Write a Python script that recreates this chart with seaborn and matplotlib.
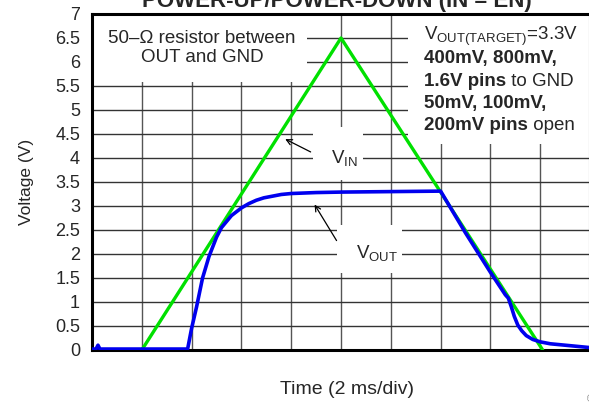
import numpy as np
import seaborn as sns
import matplotlib.pyplot as plt
from matplotlib.patches import Rectangle

# time in divisions (2 ms/div), voltage in V
vin_t = [1.0, 5.0, 9.05]
vin_v = [0.0, 6.5, 0.0]

vout_t = [0.0, 0.08, 0.12, 0.16, 1.0, 1.92, 2.0, 2.1, 2.22, 2.35, 2.5, 2.6, 2.8, 3.0,
          3.15, 3.3, 3.45, 3.6, 3.8, 4.0, 4.5, 5.0, 6.0, 7.0, 7.5, 8.0, 8.3, 8.36,
          8.42, 8.48, 8.55, 8.63, 8.72, 8.85, 9.0, 9.2, 9.5, 10.0]
vout_v = [0.02, 0.02, 0.1, 0.02, 0.02, 0.02, 0.45, 0.9, 1.5, 1.95, 2.35, 2.55, 2.8, 2.96,
          3.05, 3.12, 3.17, 3.2, 3.24, 3.26, 3.28, 3.29, 3.3, 3.31, 2.44, 1.62, 1.15, 1.08,
          0.9, 0.7, 0.52, 0.4, 0.3, 0.22, 0.17, 0.13, 0.1, 0.05]

y_ticks = np.arange(0, 7.01, 0.5)
y_tick_labels = [f"{v:g}" for v in y_ticks]
x_grid = list(range(1, 10))

sns.set_style("white")
plt.rcParams["font.family"] = ["Liberation Sans", "DejaVu Sans"]
plt.rcParams["mathtext.fontset"] = "custom"
plt.rcParams["mathtext.rm"] = "Liberation Sans"
plt.rcParams["mathtext.bf"] = "Liberation Sans:bold"
plt.rcParams["mathtext.it"] = "Liberation Sans:italic"

W, H = 589, 405
fig = plt.figure(figsize=(W / 100, H / 100), dpi=100)
ax = fig.add_axes([92 / W, 1 - 350 / H, 498 / W, 336 / H])

sns.lineplot(x=vin_t, y=vin_v, ax=ax, color="#00e000", lw=2.4, zorder=3)
sns.lineplot(x=vout_t, y=vout_v, ax=ax, color="#0000ee", lw=2.6, zorder=4)

ax.set_xlim(0, 10)
ax.set_ylim(0, 7)
ax.set_xticks(x_grid)
ax.set_xticklabels([])
ax.set_yticks(y_ticks)
ax.set_yticklabels(y_tick_labels)
ax.tick_params(axis="both", length=0)
ax.tick_params(axis="y", pad=8.6, labelsize=13)
ax.set_axisbelow(True)
ax.grid(axis="y", color="#333333", lw=1)
ax.grid(axis="x", color="#555555", lw=1)
for s in ax.spines.values():
    s.set_color("black")
    s.set_linewidth(2.2)

# white boxes behind the labels (they break the grid in the original)
for x0, x1, y0, y1 in [(0, 4.32, 5.58, 7), (6.35, 10, 4.3, 7),
                       (4.44, 5.44, 3.55, 4.65), (4.92, 6.23, 1.6, 2.6)]:
    ax.add_patch(Rectangle((x0, y0), x1 - x0, y1 - y0, facecolor="white",
                           edgecolor="none", zorder=1))

fs = 13.5
ax.text(2.21, 6.29, "50\u2013\u03a9 resistor between\nOUT and GND", ha="center",
        va="center", fontsize=fs, linespacing=1.15, zorder=5)

tx = 6.67
ax.text(tx, 6.46, r"V$_{\mathrm{OUT(TARGET)}}$=3.3V", fontsize=fs, va="baseline", zorder=5)
ax.text(tx, 5.98, "400mV, 800mV,", fontsize=fs, weight="bold", va="baseline", zorder=5)
t3 = ax.text(tx, 5.5, "1.6V pins", fontsize=fs, weight="bold", va="baseline", zorder=5)
ax.annotate(" to GND", xy=(1, 0), xycoords=t3, va="bottom", fontsize=fs, zorder=5)
ax.text(tx, 5.04, "50mV, 100mV,", fontsize=fs, weight="bold", va="baseline", zorder=5)
t5 = ax.text(tx, 4.58, "200mV pins", fontsize=fs, weight="bold", va="baseline", zorder=5)
ax.annotate(" open", xy=(1, 0), xycoords=t5, va="bottom", fontsize=fs, zorder=5)

ax.text(4.8, 3.9, r"V$_{\mathrm{IN}}$", fontsize=fs, va="baseline", zorder=5)
ax.annotate("", xy=(3.83, 4.42), xytext=(4.44, 4.1),
            arrowprops=dict(arrowstyle="->", color="black", lw=0.9), zorder=5)
ax.text(5.3, 1.92, r"V$_{\mathrm{OUT}}$", fontsize=fs, va="baseline", zorder=5)
ax.annotate("", xy=(4.44, 3.08), xytext=(4.94, 2.23),
            arrowprops=dict(arrowstyle="->", color="black", lw=0.9), zorder=5)

ax.set_ylabel("Voltage (V)", fontsize=12.5)
ax.yaxis.set_label_coords((34 - 92) / 498, 0.5)
ax.set_xlabel("Time (2 ms/div)", fontsize=14)
ax.xaxis.set_label_coords((347 - 92) / 498, (350 - 381) / 336)

fig.text(337 / W, 1 - 7 / H, "POWER-UP/POWER-DOWN (IN = EN)", ha="center",
         va="baseline", fontsize=16, weight="bold")
fig.text(590 / W, 1 - 402 / H, "\u00a9", ha="center", va="baseline",
         fontsize=7, color="gray")

fig.savefig("out.png", dpi=100)
